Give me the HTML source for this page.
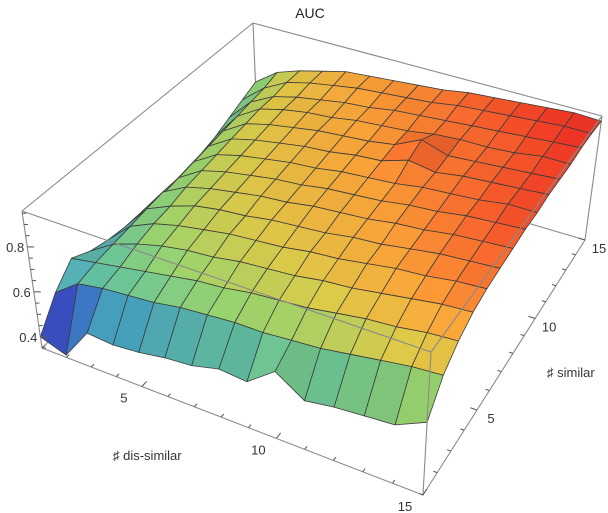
<!DOCTYPE html>
<html><head><meta charset="utf-8"><title>AUC surface</title>
<style>
html,body{margin:0;padding:0;background:#fff;}
svg{display:block;font-family:"Liberation Sans","DejaVu Sans",sans-serif;}
</style></head>
<body>
<svg id="chart" width="608" height="513" viewBox="0 0 608 513" xmlns="http://www.w3.org/2000/svg">
<g id="box-back"></g>
<g id="surface"></g>
<g id="box-front"></g>
<g id="ticks"></g>
<text x="310" y="18" font-size="14" text-anchor="middle" fill="#222">AUC</text>
<text x="113" y="460" font-size="13" fill="#333">♯ dis-similar</text>
<text x="547" y="377" font-size="13" fill="#333">♯ similar</text>
</svg>
<script>
// ---- data ----
const xCategories = [1,2,3,4,5,6,7,8,9,10,11,12,13,14,15]; // # dis-similar
const yCategories = [1,2,3,4,5,6,7,8,9,10,11,12,13,14,15]; // # similar
const zRow1  = [0.40,0.36,0.50,0.49,0.50,0.52,0.53,0.56,0.55,0.64,0.56,0.58,0.59,0.60,0.66];
const zRow2  = [0.52,0.60,0.62,0.63,0.64,0.66,0.67,0.68,0.68,0.69,0.70,0.72,0.74,0.76,0.77];
const zRow3  = [0.60,0.62,0.64,0.66,0.68,0.70,0.71,0.73,0.74,0.75,0.77,0.79,0.80,0.82,0.83];
const zRow4  = [0.56,0.63,0.67,0.70,0.72,0.73,0.75,0.76,0.77,0.79,0.80,0.82,0.84,0.86,0.87];
const zRow5  = [0.54,0.64,0.69,0.72,0.74,0.76,0.77,0.78,0.80,0.81,0.83,0.85,0.86,0.88,0.89];
const zRow6  = [0.53,0.65,0.70,0.74,0.76,0.77,0.79,0.80,0.81,0.83,0.84,0.86,0.88,0.89,0.90];
const zRow7  = [0.53,0.66,0.72,0.75,0.77,0.79,0.80,0.82,0.83,0.84,0.86,0.87,0.89,0.90,0.91];
const zRow8  = [0.52,0.66,0.73,0.76,0.78,0.80,0.81,0.83,0.84,0.85,0.87,0.88,0.90,0.91,0.92];
const zRow9  = [0.53,0.67,0.74,0.77,0.79,0.81,0.82,0.84,0.85,0.86,0.88,0.89,0.90,0.92,0.92];
const zRow10 = [0.54,0.68,0.75,0.78,0.80,0.82,0.83,0.85,0.86,0.90,0.88,0.90,0.91,0.92,0.93];
const zRow11 = [0.55,0.69,0.76,0.79,0.81,0.83,0.84,0.85,0.87,0.93,0.89,0.90,0.91,0.92,0.93];
const zRow12 = [0.57,0.70,0.77,0.80,0.82,0.83,0.85,0.86,0.87,0.89,0.90,0.90,0.91,0.93,0.93];
const zRow13 = [0.60,0.71,0.77,0.80,0.82,0.84,0.85,0.87,0.88,0.89,0.90,0.91,0.92,0.93,0.94];
const zRow14 = [0.63,0.72,0.78,0.81,0.83,0.85,0.86,0.87,0.88,0.90,0.91,0.92,0.93,0.94,0.94];
const zRow15 = [0.66,0.74,0.78,0.81,0.84,0.85,0.86,0.87,0.88,0.90,0.91,0.92,0.93,0.94,0.935];
const zRows = [zRow1,zRow2,zRow3,zRow4,zRow5,zRow6,zRow7,zRow8,zRow9,zRow10,zRow11,zRow12,zRow13,zRow14,zRow15];
const xTickLabels = [5,10,15];
const yTickLabels = [5,10,15];
const zTickLabels = [0.4,0.6,0.8];

// ---- projection ----
const XMIN=1,XMAX=15,YMIN=1,YMAX=15,ZMIN=0.35,ZMAX=0.96;
function makeH(q){
  const [x0,y0]=q[0],[x1,y1]=q[1],[x2,y2]=q[2],[x3,y3]=q[3];
  const dx1=x1-x2,dx2=x3-x2,dx3=x0-x1+x2-x3,dy1=y1-y2,dy2=y3-y2,dy3=y0-y1+y2-y3;
  const den=dx1*dy2-dx2*dy1;
  const g=(dx3*dy2-dx2*dy3)/den,h=(dx1*dy3-dx3*dy1)/den;
  const a=x1-x0+g*x1,b=x3-x0+h*x3,c=x0,d=y1-y0+g*y1,e=y3-y0+h*y3,f=y0;
  return (u,v)=>{const w=g*u+h*v+1;return [(a*u+b*v+c)/w,(d*u+e*v+f)/w];};
}
const Hb=makeH([[42,348],[423,495],[585,240],[258,143]]);
const Ht=makeH([[22,211],[431,352],[602,116],[253,23]]);
function uS(x){return (x-XMIN)/(XMAX-XMIN);}
function vS(y){return (y-YMIN)/(YMAX-YMIN);}
function tS(z){return (z-ZMIN)/(ZMAX-ZMIN);}
function proj(x,y,z){
  const u=uS(x),v=vS(y),t=tS(z);
  const b=Hb(u,v),tp=Ht(u,v);
  return [b[0]+(tp[0]-b[0])*t,b[1]+(tp[1]-b[1])*t];
}
const NS='http://www.w3.org/2000/svg';
function el(tag,attrs,parent){const e=document.createElementNS(NS,tag);for(const k in attrs)e.setAttribute(k,attrs[k]);parent.appendChild(e);return e;}

// ---- colour map ----
const stops=[[0.36,[92,30,160]],[0.44,[60,60,190]],[0.50,[55,100,200]],[0.56,[70,160,190]],[0.63,[100,190,150]],[0.70,[150,205,105]],[0.78,[215,195,70]],[0.85,[245,160,55]],[0.90,[245,105,45]],[0.94,[238,50,36]]];
function cmap(z,shade){
  let c=stops[stops.length-1][1];
  if(z<=stops[0][0])c=stops[0][1];
  for(let i=0;i<stops.length-1;i++){const a=stops[i],b=stops[i+1];if(z>=a[0]&&z<=b[0]){const f=(z-a[0])/(b[0]-a[0]);c=a[1].map((v,k)=>v+(b[1][k]-v)*f);break;}}
  return 'rgb('+c.map(v=>Math.max(0,Math.min(255,Math.round(v*shade)))).join(',')+')';
}

// ---- box ----
const back=document.getElementById('box-back'),front=document.getElementById('box-front');
const BOX='#8a8a8a';
function edge(p,q,parent,name){
  const a=proj(...p),b=proj(...q);
  const l=el('line',{x1:a[0],y1:a[1],x2:b[0],y2:b[1],stroke:BOX,'stroke-width':1.1},parent);
  
  
}
edge([XMIN,YMAX,ZMIN],[XMAX,YMAX,ZMIN],back,'box-bottom-back-edge');
edge([XMIN,YMIN,ZMIN],[XMIN,YMAX,ZMIN],back,'box-bottom-left-edge');
edge([XMIN,YMAX,ZMIN],[XMIN,YMAX,ZMAX],back,'box-back-left-vertical');
edge([XMAX,YMAX,ZMIN],[XMAX,YMAX,ZMAX],back,'box-back-right-vertical');
edge([XMIN,YMAX,ZMAX],[XMAX,YMAX,ZMAX],back,'box-top-back-edge');
edge([XMIN,YMIN,ZMAX],[XMIN,YMAX,ZMAX],back,'box-top-left-edge');

// ---- surface ----
const surf=document.getElementById('surface');
const nx=xCategories.length,ny=yCategories.length;
for(let j=ny-2;j>=0;j--){
  for(let i=nx-2;i>=0;i--){
    const z00=zRows[j][i],z10=zRows[j][i+1],z11=zRows[j+1][i+1],z01=zRows[j+1][i];
    const pts=[proj(xCategories[i],yCategories[j],z00),proj(xCategories[i+1],yCategories[j],z10),proj(xCategories[i+1],yCategories[j+1],z11),proj(xCategories[i],yCategories[j+1],z01)];
    const zAvg=(z00+z10+z11+z01)/4;
    const dzx=((z10-z00)+(z11-z01))/2, dzy=((z01-z00)+(z11-z10))/2;
    const k=12;
    let nxv=-dzx*k,nyv=-dzy*k,nz=1;const nl=Math.hypot(nxv,nyv,nz);
    const L=[-0.35,-0.45,0.82];
    const lam=(nxv*L[0]+nyv*L[1]+nz*L[2])/nl;
    const shade=0.74+0.3*Math.max(0,lam);
    const poly=el('polygon',{points:pts.map(p=>p[0].toFixed(1)+','+p[1].toFixed(1)).join(' '),fill:cmap(zAvg,shade),stroke:'#3c3c3c','stroke-width':0.8,'stroke-linejoin':'round'},surf);
    
    
  }
}

// ---- front box edges ----
edge([XMIN,YMIN,ZMIN],[XMAX,YMIN,ZMIN],front,'box-bottom-front-edge');
edge([XMAX,YMIN,ZMIN],[XMAX,YMAX,ZMIN],front,'box-bottom-right-edge');
edge([XMIN,YMIN,ZMIN],[XMIN,YMIN,ZMAX],front,'box-front-left-vertical');
edge([XMAX,YMIN,ZMIN],[XMAX,YMIN,ZMAX],front,'box-front-right-vertical');
edge([XMIN,YMIN,ZMAX],[XMAX,YMIN,ZMAX],front,'box-top-front-edge');
edge([XMAX,YMIN,ZMAX],[XMAX,YMAX,ZMAX],front,'box-top-right-edge');

// ---- ticks ----
const tg=document.getElementById('ticks');
function tick(a,dir,len,name){
  const l=el('line',{x1:a[0],y1:a[1],x2:a[0]+dir[0]*len,y2:a[1]+dir[1]*len,stroke:'#555','stroke-width':1},tg);
  
  
}
function unit(p,q){const dx=q[0]-p[0],dy=q[1]-p[1],d=Math.hypot(dx,dy);return [dx/d,dy/d];}
for(let z=0.35;z<=0.951;z+=0.05){
  const zz=Math.round(z*100)/100;
  const p=proj(XMIN,YMIN,zz);
  const major=zTickLabels.some(v=>Math.abs(v-zz)<1e-6);
  tick(p,[1,0],major?7:4,'z-tick');
}
zTickLabels.forEach(v=>{
  const p=proj(XMIN,YMIN,v);
  const t=el('text',{x:p[0]-3,y:p[1]+5,'font-size':13,'text-anchor':'end',fill:'#333'},tg);
  t.textContent=v.toFixed(1);
  
  
});
for(let x=XMIN;x<=XMAX;x++){
  const p=proj(x,YMIN,ZMIN),q=proj(x,YMIN+0.5,ZMIN);
  const major=xTickLabels.includes(x);
  tick(p,unit(p,q),major?7:4,'x-tick');
}
xTickLabels.forEach(v=>{
  const p=proj(v,YMIN,ZMIN);
  const t=el('text',{x:p[0]-18,y:p[1]+16,'font-size':13,'text-anchor':'middle',fill:'#333'},tg);
  t.textContent=v;
  
  
});
for(let y=YMIN;y<=YMAX;y++){
  const p=proj(XMAX,y,ZMIN),q=proj(XMAX-0.5,y,ZMIN);
  const major=yTickLabels.includes(y);
  tick(p,unit(p,q),major?7:4,'y-tick');
}
yTickLabels.forEach(v=>{
  const p=proj(XMAX,v,ZMIN);
  const t=el('text',{x:p[0]+14,y:p[1]+13,'font-size':13,'text-anchor':'middle',fill:'#333'},tg);
  t.textContent=v;
  
  
});
</script>
</body></html>
